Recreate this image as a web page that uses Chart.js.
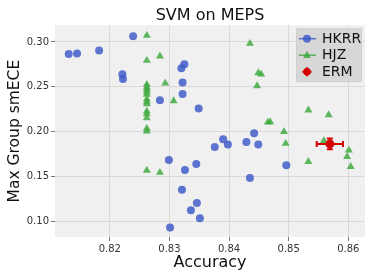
<!DOCTYPE html>
<html>
<head>
<meta charset="utf-8">
<script src="https://cdn.jsdelivr.net/npm/chart.js@4"></script>
<style>
html,body{margin:0;padding:0;background:#fff;}
#wrap{width:374px;height:280px;}
</style>
</head>
<body>
<div id="wrap"><canvas id="c" width="374" height="280"></canvas></div>
<script>
// ---- data ----
const xTickValues = [0.82, 0.83, 0.84, 0.85, 0.86];
const xTickLabels = ["0.82", "0.83", "0.84", "0.85", "0.86"];
const yTickValues = [0.10, 0.15, 0.20, 0.25, 0.30];
const yTickLabels = ["0.10", "0.15", "0.20", "0.25", "0.30"];

const hkrrAcc = [0.8131, 0.8145, 0.8182, 0.8239, 0.8221, 0.8222, 0.8284, 0.8320, 0.8325, 0.8322,
                 0.8322, 0.8349, 0.8390, 0.8376, 0.8398, 0.8442, 0.8429, 0.8449, 0.8496, 0.8435,
                 0.8345, 0.8326, 0.8321, 0.8346, 0.8336, 0.8351, 0.8299, 0.8301];
const hkrrEce = [0.2866, 0.2870, 0.2904, 0.3063, 0.2640, 0.2588, 0.2350, 0.2707, 0.2752, 0.2548,
                 0.2421, 0.2258, 0.1917, 0.1831, 0.1857, 0.1983, 0.1886, 0.1857, 0.1627, 0.1486,
                 0.1641, 0.1575, 0.1356, 0.1207, 0.1126, 0.1037, 0.1686, 0.0934];

const hjzAcc = [0.8262, 0.8262, 0.8262, 0.8262, 0.8262, 0.8262, 0.8262, 0.8262, 0.8262, 0.8262,
                0.8262, 0.8262, 0.8262, 0.8262, 0.8262, 0.8262, 0.8284, 0.8284, 0.8293, 0.8307,
                0.8435, 0.8449, 0.8454, 0.8447, 0.8465, 0.8469, 0.8492, 0.8495, 0.8533, 0.8567,
                0.8533, 0.8559, 0.8601, 0.8598, 0.8604];
const hjzEce = [0.3071, 0.2793, 0.2526, 0.2496, 0.2470, 0.2443, 0.2414, 0.2362, 0.2332, 0.2310,
                0.2228, 0.2198, 0.2154, 0.2036, 0.2006, 0.1570, 0.2841, 0.1546, 0.2540, 0.2343,
                0.2982, 0.2655, 0.2640, 0.2510, 0.2106, 0.2110, 0.2000, 0.1869, 0.2240, 0.2187,
                0.1668, 0.1900, 0.1794, 0.1724, 0.1612];

const ermAcc = [0.8569];
const ermEce = [0.1865];
const ermAccErr = [0.0022];
const ermEceErr = [0.0060];

const seriesLabels = ["HKRR", "HJZ", "ERM"];
const xRange = [0.8108, 0.8628];
const yRange = [0.0829, 0.3186];

// ---- styles ----
const BLUE = "rgba(58,88,200,0.82)";
const GREEN = "rgba(60,168,60,0.82)";
const RED = "#d40000";
const FONT = "'DejaVu Sans', sans-serif";

function pts(xs, ys) { return xs.map((x, i) => ({x: x, y: ys[i]})); }

const bgPlugin = {
  id: 'bg',
  beforeDraw(chart) {
    const {ctx, chartArea: a} = chart;
    ctx.save();
    ctx.fillStyle = '#f0f0f0';
    ctx.fillRect(a.left, a.top, a.right - a.left, a.bottom - a.top);
    ctx.restore();
  }
};

const errPlugin = {
  id: 'err',
  afterDatasetsDraw(chart) {
    const {ctx, scales: {x, y}} = chart;
    ctx.save();
    ctx.strokeStyle = RED;
    ctx.lineWidth = 2;
    for (let i = 0; i < ermAcc.length; i++) {
      const x0 = x.getPixelForValue(ermAcc[i] - ermAccErr[i]);
      const x1 = x.getPixelForValue(ermAcc[i] + ermAccErr[i]);
      const y0 = y.getPixelForValue(ermEce[i] - ermEceErr[i]);
      const y1 = y.getPixelForValue(ermEce[i] + ermEceErr[i]);
      const cx = x.getPixelForValue(ermAcc[i]);
      const cy = y.getPixelForValue(ermEce[i]);
      ctx.beginPath();
      ctx.moveTo(x0, cy); ctx.lineTo(x1, cy);
      ctx.moveTo(cx, y0); ctx.lineTo(cx, y1);
      ctx.moveTo(x0, cy - 3); ctx.lineTo(x0, cy + 3);
      ctx.moveTo(x1, cy - 3); ctx.lineTo(x1, cy + 3);
      ctx.moveTo(cx - 3, y0); ctx.lineTo(cx + 3, y0);
      ctx.moveTo(cx - 3, y1); ctx.lineTo(cx + 3, y1);
      ctx.stroke();
      ctx.fillStyle = RED;
      ctx.beginPath(); ctx.arc(cx, cy, 4.5, 0, Math.PI * 2); ctx.fill();
    }
    ctx.restore();
  }
};

const legendPlugin = {
  id: 'customLegend',
  afterDraw(chart) {
    const {ctx, chartArea: a} = chart;
    const w = 65, h = 53;
    const bx = a.right - 4 - w, by = a.top + 3;
    ctx.save();
    ctx.fillStyle = 'rgba(212,212,212,0.9)';
    ctx.strokeStyle = '#cfcfcf';
    ctx.lineWidth = 1;
    ctx.beginPath();
    ctx.rect(bx + 0.5, by + 0.5, w, h);
    ctx.fill();
    ctx.stroke();
    const rows = [by + 10.5, by + 27, by + 43.5];
    const hx0 = bx + 3, hx1 = bx + 20, hm = bx + 11;
    // HKRR
    ctx.strokeStyle = BLUE; ctx.fillStyle = BLUE; ctx.lineWidth = 1.5;
    ctx.beginPath(); ctx.moveTo(hx0, rows[0]); ctx.lineTo(hx1, rows[0]); ctx.stroke();
    ctx.beginPath(); ctx.arc(hm, rows[0], 4, 0, Math.PI * 2); ctx.fill();
    // HJZ
    ctx.strokeStyle = GREEN; ctx.fillStyle = GREEN;
    ctx.beginPath(); ctx.moveTo(hx0, rows[1]); ctx.lineTo(hx1, rows[1]); ctx.stroke();
    const r = 4.5;
    ctx.beginPath();
    ctx.moveTo(hm, rows[1] - r);
    ctx.lineTo(hm + r * 0.866, rows[1] + r * 0.5 + 0.6);
    ctx.lineTo(hm - r * 0.866, rows[1] + r * 0.5 + 0.6);
    ctx.closePath(); ctx.fill();
    // ERM
    ctx.strokeStyle = RED; ctx.fillStyle = RED; ctx.lineWidth = 2;
    ctx.beginPath();
    ctx.moveTo(hm - 4.5, rows[2]); ctx.lineTo(hm + 4.5, rows[2]);
    ctx.moveTo(hm, rows[2] - 4.5); ctx.lineTo(hm, rows[2] + 4.5);
    ctx.stroke();
    ctx.beginPath(); ctx.arc(hm, rows[2], 3.8, 0, Math.PI * 2); ctx.fill();
    // text
    ctx.fillStyle = '#111';
    ctx.font = "14px " + FONT;
    ctx.textBaseline = 'middle';
    ctx.textAlign = 'left';
    for (let i = 0; i < 3; i++) ctx.fillText(seriesLabels[i], bx + 26, rows[i] + 0.5);
    ctx.restore();
  }
};

new Chart(document.getElementById('c'), {
  type: 'scatter',
  data: {
    datasets: [
      {label: seriesLabels[0], data: pts(hkrrAcc, hkrrEce), pointStyle: 'circle', pointRadius: 4,
       backgroundColor: BLUE, borderWidth: 0, pointBorderWidth: 0},
      {label: seriesLabels[1], data: pts(hjzAcc, hjzEce), pointStyle: 'triangle', pointRadius: 4.6,
       backgroundColor: GREEN, borderWidth: 0, pointBorderWidth: 0},
      {label: seriesLabels[2], data: pts(ermAcc, ermEce), pointRadius: 0, backgroundColor: RED}
    ]
  },
  options: {
    responsive: false,
    animation: false,
    events: [],
    layout: {padding: {left: 0, right: 9, top: 0, bottom: 0}},
    plugins: {
      legend: {display: false},
      tooltip: {enabled: false},
      title: {
        display: true, text: 'SVM on MEPS', color: '#111', fullSize: false,
        font: {family: FONT, size: 16, weight: 'normal'},
        padding: {top: 6, bottom: 0}
      }
    },
    scales: {
      x: {
        type: 'linear', min: xRange[0], max: xRange[1],
        afterBuildTicks(s) { s.ticks = xTickValues.map(v => ({value: v})); },
        afterFit(s) { s.height = 43; },
        ticks: {
          callback: (v) => { const i = xTickValues.findIndex(t => Math.abs(t - v) < 1e-9); return i >= 0 ? xTickLabels[i] : ''; },
          font: {family: FONT, size: 10}, color: '#333', padding: 2, maxRotation: 0
        },
        grid: {color: '#d9d9d9', tickColor: '#777', tickLength: 4, lineWidth: 1},
        border: {display: false},
        title: {display: true, text: 'Accuracy', color: '#111',
                font: {family: FONT, size: 16}, padding: {top: 0, bottom: 8}}
      },
      y: {
        type: 'linear', min: yRange[0], max: yRange[1],
        afterBuildTicks(s) { s.ticks = yTickValues.map(v => ({value: v})); },
        afterFit(s) { s.width = 55; },
        ticks: {
          callback: (v) => { const i = yTickValues.findIndex(t => Math.abs(t - v) < 1e-9); return i >= 0 ? yTickLabels[i] : ''; },
          font: {family: FONT, size: 10}, color: '#333', padding: 2
        },
        grid: {color: '#d9d9d9', tickColor: '#777', tickLength: 4, lineWidth: 1},
        border: {display: false},
        title: {display: true, text: 'Max Group smECE', color: '#111',
                font: {family: FONT, size: 15.5}, padding: {top: 6, bottom: 0}}
      }
    }
  },
  plugins: [bgPlugin, errPlugin, legendPlugin]
});
</script>
</body>
</html>
